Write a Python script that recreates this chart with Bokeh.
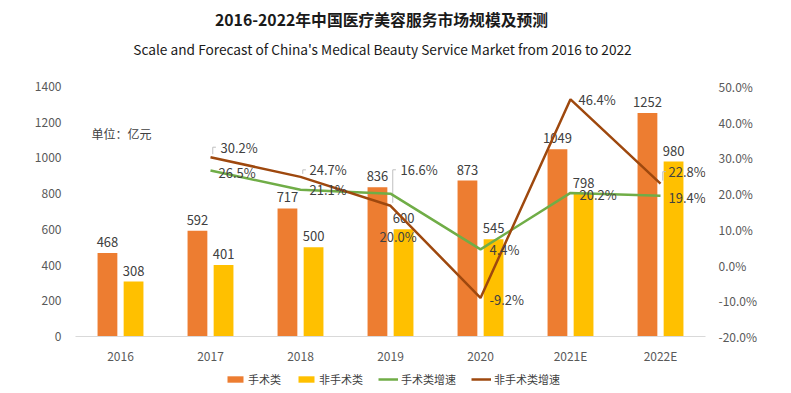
from bokeh.plotting import figure
from bokeh.layouts import column
from bokeh.models import (ColumnDataSource, FactorRange, Range1d, LinearAxis, FixedTicker,
                          NumeralTickFormatter, Label, Legend, LegendItem)
from bokeh.transform import dodge
from bokeh.embed import file_html
from bokeh.resources import INLINE
from bokeh.core.properties import value

# ---- data ----
years = ["2016", "2017", "2018", "2019", "2020", "2021E", "2022E"]
surgical = [468, 592, 717, 836, 873, 1049, 1252]
non_surgical = [308, 401, 500, 600, 545, 798, 980]
growth_years = ["2017", "2018", "2019", "2020", "2021E", "2022E"]
surgical_growth = [0.265, 0.211, 0.200, 0.044, 0.202, 0.194]
non_surgical_growth = [0.302, 0.247, 0.166, -0.092, 0.464, 0.228]
left_ticks = [0, 200, 400, 600, 800, 1000, 1200, 1400]
right_ticks = [-0.2, -0.1, 0.0, 0.1, 0.2, 0.3, 0.4, 0.5]
series_names = ["手术类", "非手术类", "手术类增速", "非手术类增速"]
title_text = "2016-2022年中国医疗美容服务市场规模及预测"
subtitle_text = "Scale and Forecast of China's Medical Beauty Service Market from 2016 to 2022"
unit_text = "单位：亿元"

# label offsets (style, px)
sg_dx = [8, 9, -11, 9, 9, 8]
sg_dy = [2, 0, 43, 0, 2, 2]
ng_dx = [10, 9, 10, 9, 8, 8]
ng_dy = [-10, -7, -36, 2, 0, -12]
leader_idx = [0, 1, 2, 5]          # non-surgical labels drawn with a leader line

FONT = "Noto Sans CJK SC"
C_OR = "#ED7D31"
C_YE = "#FFC000"
C_GR = "#70AD47"
C_BR = "#9E480E"
TXT = "#404040"
AX = "#595959"
W = 791
PX_PER_PCT = 250 / 0.7   # frame height / right-axis span


def blank(height, x_range):
    f = figure(width=W, height=height, x_range=x_range, y_range=Range1d(0, 1),
               output_backend="svg", toolbar_location=None,
               x_axis_location=None, y_axis_location=None,
               min_border_left=0, min_border_right=0, min_border_top=0, min_border_bottom=0)
    f.outline_line_color = None
    f.grid.grid_line_color = None
    return f


# ---- title panel (frame is aligned with the chart frame: left edge at x=75) ----
pt = blank(76, Range1d(0, 1))
pt.add_layout(Label(x=306, y=57, x_units="screen", y_units="screen", text=title_text,
                    text_font=FONT, text_font_size="15.8px", text_font_style="bold",
                    text_color="#1a1a1a", text_align="center", text_baseline="middle"))
pt.add_layout(Label(x=307, y=28, x_units="screen", y_units="screen", text=subtitle_text,
                    text_font=FONT, text_font_size="13.7px",
                    text_color="#1a1a1a", text_align="center", text_baseline="middle"))

# ---- main chart ----
p = figure(x_range=FactorRange(*years), y_range=Range1d(0, 1400),
           width=W, height=291, output_backend="svg", toolbar_location=None,
           min_border_left=75, min_border_right=86, min_border_top=10, min_border_bottom=31)
p.extra_y_ranges = {"pct": Range1d(-0.2, 0.5)}
p.outline_line_color = None
p.xgrid.grid_line_color = None
p.ygrid.grid_line_color = None

p.yaxis.ticker = FixedTicker(ticks=left_ticks)
p.yaxis.axis_line_color = None
p.yaxis.major_tick_line_color = None
p.yaxis.minor_tick_line_color = None
p.yaxis.major_label_standoff = 8
p.yaxis.major_label_text_font = FONT
p.yaxis.major_label_text_font_size = "12px"
p.yaxis.major_label_text_color = AX

ra = LinearAxis(y_range_name="pct", ticker=FixedTicker(ticks=right_ticks),
                formatter=NumeralTickFormatter(format="0.0%"))
ra.axis_line_color = None
ra.major_tick_line_color = None
ra.minor_tick_line_color = None
ra.major_label_standoff = 7
ra.major_label_text_font = FONT
ra.major_label_text_font_size = "12px"
ra.major_label_text_color = AX
p.add_layout(ra, "right")

p.xaxis.axis_line_color = "#D9D9D9"
p.xaxis.axis_line_width = 1
p.xaxis.major_tick_line_color = None
p.xaxis.minor_tick_line_color = None
p.xaxis.major_label_standoff = 4
p.xaxis.major_label_text_font = FONT
p.xaxis.major_label_text_font_size = "12px"
p.xaxis.major_label_text_color = AX

bars = ColumnDataSource(dict(year=years, s=surgical, n=non_surgical,
                             sl=[str(v) for v in surgical], nl=[str(v) for v in non_surgical]))
p.vbar(x=dodge("year", -0.145, range=p.x_range), top="s", width=0.22, source=bars,
       fill_color=C_OR, line_color=None)
p.vbar(x=dodge("year", 0.145, range=p.x_range), top="n", width=0.22, source=bars,
       fill_color=C_YE, line_color=None)
p.text(x=dodge("year", -0.145, range=p.x_range), y="s", text="sl", source=bars,
       text_align="center", text_baseline="bottom", y_offset=-6,
       text_font=value(FONT), text_font_size="13px", text_color=TXT)
p.text(x=dodge("year", 0.145, range=p.x_range), y="n", text="nl", source=bars,
       text_align="center", text_baseline="bottom", y_offset=-6,
       text_font=value(FONT), text_font_size="13px", text_color=TXT)

# leader lines for some growth labels (gray elbow from the point up to the label)
ld = ColumnDataSource(dict(
    year=[growth_years[i] for i in leader_idx],
    y0=[non_surgical_growth[i] + 3 / PX_PER_PCT for i in leader_idx],
    y1=[non_surgical_growth[i] - ng_dy[i] / PX_PER_PCT for i in leader_idx]))
p.segment(x0=dodge("year", 0.025, range=p.x_range), x1=dodge("year", 0.025, range=p.x_range),
          y0="y0", y1="y1", source=ld, y_range_name="pct", line_color="#BFBFBF", line_width=1)
p.segment(x0=dodge("year", 0.025, range=p.x_range), x1=dodge("year", 0.06, range=p.x_range),
          y0="y1", y1="y1", source=ld, y_range_name="pct", line_color="#BFBFBF", line_width=1)

gs = ColumnDataSource(dict(year=growth_years, sg=surgical_growth, ng=non_surgical_growth,
                           sgl=["%.1f%%" % (v * 100) for v in surgical_growth],
                           ngl=["%.1f%%" % (v * 100) for v in non_surgical_growth],
                           sdx=sg_dx, sdy=sg_dy, ndx=ng_dx, ndy=ng_dy))
p.line(x="year", y="sg", source=gs, y_range_name="pct", line_color=C_GR, line_width=2.5)
p.line(x="year", y="ng", source=gs, y_range_name="pct", line_color=C_BR, line_width=2.5)
p.text(x="year", y="sg", text="sgl", source=gs, y_range_name="pct",
       x_offset="sdx", y_offset="sdy", text_align="left", text_baseline="middle",
       text_font=value(FONT), text_font_size="13px", text_color=TXT)
p.text(x="year", y="ng", text="ngl", source=gs, y_range_name="pct",
       x_offset="ndx", y_offset="ndy", text_align="left", text_baseline="middle",
       text_font=value(FONT), text_font_size="13px", text_color=TXT)

p.add_layout(Label(x=16, y=203, x_units="screen", y_units="screen", text=unit_text,
                   text_font=FONT, text_font_size="12px", text_color=TXT,
                   text_baseline="middle"))

# ---- legend panel (hidden copies of the series supply the legend glyphs) ----
pl = blank(26, FactorRange(*years))
g1 = pl.vbar(x=years, top=surgical, width=0.22, fill_color=C_OR, line_color=None, visible=False)
g2 = pl.vbar(x=years, top=non_surgical, width=0.22, fill_color=C_YE, line_color=None, visible=False)
g3 = pl.line(x=growth_years, y=surgical_growth, line_color=C_GR, line_width=2.5, visible=False)
g4 = pl.line(x=growth_years, y=non_surgical_growth, line_color=C_BR, line_width=2.5, visible=False)
legend = Legend(items=[LegendItem(label=series_names[i], renderers=[g])
                       for i, g in enumerate([g1, g2, g3, g4])],
                orientation="horizontal", location=(150, 6), click_policy="none",
                glyph_width=20, glyph_height=8, label_standoff=3, spacing=15,
                padding=0, margin=0, border_line_color=None, background_fill_alpha=0,
                inactive_fill_alpha=0,
                label_text_font=FONT, label_text_font_size="11px", label_text_color=TXT,
                label_height=14)
pl.add_layout(legend, "center")

open("out.html", "w").write(file_html(column(pt, p, pl, spacing=0), INLINE))
